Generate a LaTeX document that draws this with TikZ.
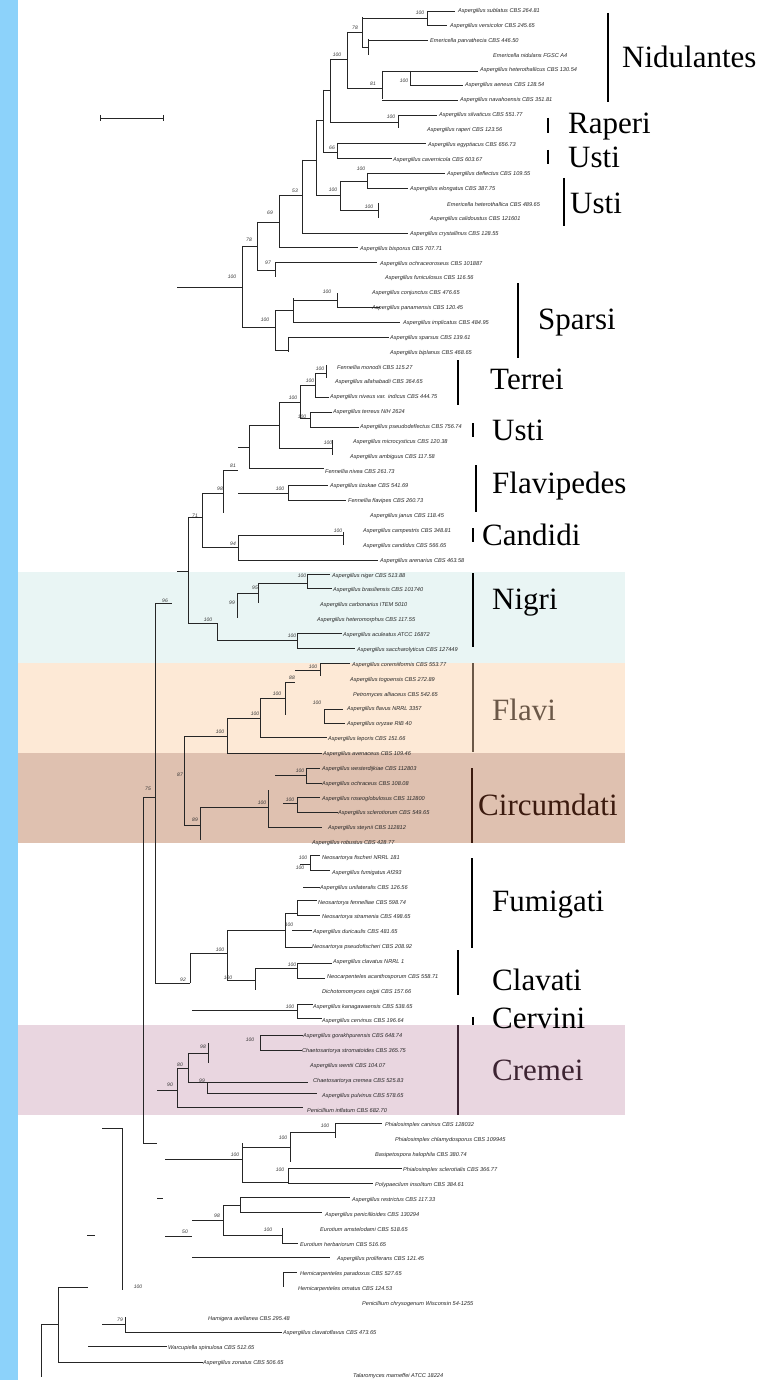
\documentclass[tikz,border=0pt]{standalone}
\usepackage{fontspec}
\setmainfont{Liberation Serif}
\newfontfamily\lfont{Liberation Sans}
\definecolor{strip}{RGB}{140,210,250}
\definecolor{nigribg}{RGB}{233,245,244}
\definecolor{flavibg}{RGB}{253,233,214}
\definecolor{circbg}{RGB}{223,193,176}
\definecolor{cremeibg}{RGB}{233,214,224}
\definecolor{flavitx}{RGB}{107,88,72}
\definecolor{circtx}{RGB}{59,26,14}
\definecolor{cremtx}{RGB}{61,36,50}
\tikzset{
  lf/.style={anchor=west, inner sep=0pt, font=\lfont\itshape\fontsize{5.6}{6}\selectfont, text=black!85},
  bs/.style={inner sep=0pt, font=\lfont\itshape\fontsize{5}{5}\selectfont, text=black!80},
  cl/.style={anchor=west, inner sep=0pt, font=\fontsize{31}{31}\selectfont},
  br/.style={draw=black!85, line width=0.8pt},
  cbar/.style={line width=2pt}
}
\begin{document}
\begin{tikzpicture}[x=1pt,y=-1pt]
\useasboundingbox (0,0) rectangle (771,1380);
\fill[white] (0,0) rectangle (771,1380);
\fill[strip] (0,0) rectangle (18,1380);
\fill[nigribg] (18,572) rectangle (625,663);
\fill[flavibg] (18,663) rectangle (625,753);
\fill[circbg] (18,753) rectangle (625,843);
\fill[cremeibg] (18,1025) rectangle (625,1115);

% scale bar
\draw[br] (100,118) -- (163,118);
\draw[br] (100,115) -- (100,121);
\draw[br] (163,115) -- (163,121);

% ---------- tree branches ----------
\draw[br] (427,11) -- (427,25);
\draw[br] (427,11) -- (455,11);
\draw[br] (427,25) -- (447,25);
\draw[br] (362,17) -- (362,47);
\draw[br] (362,18) -- (427,18);
\draw[br] (368,39) -- (368,55);
\draw[br] (368,40) -- (428,40);
\draw[br] (362,47) -- (368,47);
\draw[br] (347,32) -- (347,88);
\draw[br] (347,32) -- (362,32);
\draw[br] (347,88) -- (382,88);
\draw[br] (330,59) -- (347,59);
\draw[br] (382,71) -- (382,99);
\draw[br] (382,71) -- (478,71);
\draw[br] (382,100) -- (458,100);
\draw[br] (410,71) -- (410,85);
\draw[br] (410,85) -- (463,85);
\draw[br] (330,59) -- (330,122);
\draw[br] (330,122) -- (398,122);
\draw[br] (398,115) -- (398,128);
\draw[br] (398,115) -- (437,115);
\draw[br] (323,90) -- (323,152);
\draw[br] (323,90) -- (330,90);
\draw[br] (323,152) -- (337,152);
\draw[br] (337,143) -- (337,158);
\draw[br] (337,143) -- (426,143);
\draw[br] (337,158) -- (392,158);
\draw[br] (316,120) -- (316,195);
\draw[br] (316,120) -- (323,120);
\draw[br] (316,195) -- (340,195);
\draw[br] (340,181) -- (340,210);
\draw[br] (340,181) -- (367,181);
\draw[br] (340,210) -- (378,210);
\draw[br] (367,173) -- (367,188);
\draw[br] (367,173) -- (445,173);
\draw[br] (367,188) -- (408,188);
\draw[br] (378,203) -- (378,218);
\draw[br] (302,160) -- (302,233);
\draw[br] (302,160) -- (316,160);
\draw[br] (302,233) -- (408,233);
\draw[br] (279,195) -- (279,247);
\draw[br] (279,195) -- (302,195);
\draw[br] (279,247) -- (358,247);
\draw[br] (257,222) -- (257,270);
\draw[br] (257,222) -- (279,222);
\draw[br] (257,270) -- (275,270);
\draw[br] (275,262) -- (275,277);
\draw[br] (275,262) -- (377,262);
\draw[br] (242,246) -- (242,327);
\draw[br] (242,246) -- (257,246);
\draw[br] (177,287) -- (242,287);
\draw[br] (242,327) -- (275,327);
\draw[br] (275,310) -- (275,350);
\draw[br] (275,310) -- (293,310);
\draw[br] (293,298) -- (293,322);
\draw[br] (293,300) -- (337,300);
\draw[br] (337,293) -- (337,307);
\draw[br] (337,307) -- (380,307);
\draw[br] (293,322) -- (400,322);
\draw[br] (275,350) -- (288,350);
\draw[br] (288,337) -- (288,352);
\draw[br] (288,337) -- (389,337);
% Terrei / Usti / Flavipedes / Candidi
\draw[br] (326,365) -- (326,378);
\draw[br] (315,373) -- (315,397);
\draw[br] (315,373) -- (326,373);
\draw[br] (315,397) -- (329,397);
\draw[br] (300,385) -- (315,385);
\draw[br] (300,385) -- (300,418);
\draw[br] (279,402) -- (300,402);
\draw[br] (300,418) -- (310,418);
\draw[br] (310,412) -- (310,427);
\draw[br] (310,412) -- (332,412);
\draw[br] (310,427) -- (359,427);
\draw[br] (279,402) -- (279,448);
\draw[br] (279,448) -- (332,448);
\draw[br] (332,440) -- (332,455);
\draw[br] (249,425) -- (249,468);
\draw[br] (249,425) -- (279,425);
\draw[br] (249,468) -- (324,468);
\draw[br] (238,447) -- (249,447);
\draw[br] (223,470) -- (223,513);
\draw[br] (223,470) -- (238,470);
\draw[br] (202,493) -- (223,493);
\draw[br] (238,493) -- (288,493);
\draw[br] (288,485) -- (288,500);
\draw[br] (288,485) -- (328,485);
\draw[br] (288,500) -- (346,500);
\draw[br] (202,493) -- (202,547);
\draw[br] (202,547) -- (238,547);
\draw[br] (238,535) -- (238,560);
\draw[br] (238,535) -- (343,535);
\draw[br] (343,532) -- (343,545);
\draw[br] (238,560) -- (378,560);
\draw[br] (188,517) -- (202,517);
\draw[br] (188,517) -- (188,623);
\draw[br] (177,571) -- (188,571);
% Nigri
\draw[br] (307,574) -- (307,588);
\draw[br] (307,574) -- (330,574);
\draw[br] (307,588) -- (332,588);
\draw[br] (258,583) -- (307,583);
\draw[br] (258,583) -- (258,603);
\draw[br] (237,593) -- (258,593);
\draw[br] (237,593) -- (237,618);
\draw[br] (188,623) -- (217,623);
\draw[br] (217,623) -- (217,640);
\draw[br] (217,640) -- (297,640);
\draw[br] (297,633) -- (297,648);
\draw[br] (297,633) -- (342,633);
\draw[br] (297,648) -- (355,648);
\draw[br] (155,603) -- (172,603);
\draw[br] (155,603) -- (155,983);
% Flavi
\draw[br] (295,670) -- (320,670);
\draw[br] (320,663) -- (320,676);
\draw[br] (320,663) -- (350,663);
\draw[br] (285,682) -- (295,682);
\draw[br] (285,682) -- (285,715);
\draw[br] (260,698) -- (285,698);
\draw[br] (260,698) -- (260,737);
\draw[br] (260,737) -- (327,737);
\draw[br] (324,709) -- (324,723);
\draw[br] (324,709) -- (343,709);
\draw[br] (324,723) -- (345,723);
\draw[br] (227,718) -- (260,718);
\draw[br] (184,736) -- (227,736);
\draw[br] (227,718) -- (227,753);
\draw[br] (227,753) -- (322,753);
\draw[br] (184,736) -- (184,825);
% Circumdati
\draw[br] (184,825) -- (200,825);
\draw[br] (200,807) -- (200,840);
\draw[br] (200,807) -- (268,807);
\draw[br] (268,790) -- (268,827);
\draw[br] (268,827) -- (322,827);
\draw[br] (283,803) -- (297,803);
\draw[br] (297,797) -- (297,812);
\draw[br] (297,797) -- (320,797);
\draw[br] (297,812) -- (338,812);
\draw[br] (275,775) -- (306,775);
\draw[br] (306,768) -- (306,783);
\draw[br] (306,768) -- (320,768);
\draw[br] (306,783) -- (322,783);
\draw[br] (143,797) -- (155,797);
\draw[br] (143,797) -- (143,1143);
% Fumigati
\draw[br] (310,855) -- (310,870);
\draw[br] (310,855) -- (320,855);
\draw[br] (310,870) -- (330,870);
\draw[br] (300,864) -- (310,864);
\draw[br] (303,887) -- (320,887);
\draw[br] (297,900) -- (297,915);
\draw[br] (297,900) -- (317,900);
\draw[br] (297,915) -- (320,915);
\draw[br] (285,913) -- (285,947);
\draw[br] (285,913) -- (297,913);
\draw[br] (292,930) -- (312,930);
\draw[br] (285,947) -- (312,947);
\draw[br] (227,930) -- (227,980);
\draw[br] (227,930) -- (285,930);
\draw[br] (190,953) -- (227,953);
% Clavati
\draw[br] (297,963) -- (297,978);
\draw[br] (297,963) -- (332,963);
\draw[br] (297,978) -- (325,978);
\draw[br] (255,968) -- (297,968);
\draw[br] (255,968) -- (255,990);
\draw[br] (227,980) -- (255,980);
\draw[br] (155,983) -- (190,983);
\draw[br] (190,953) -- (190,983);
% Cervini
\draw[br] (192,1010) -- (297,1010);
\draw[br] (297,1004) -- (297,1018);
\draw[br] (297,1004) -- (313,1004);
\draw[br] (297,1018) -- (322,1018);
% Cremei
\draw[br] (260,1035) -- (260,1050);
\draw[br] (260,1035) -- (303,1035);
\draw[br] (260,1050) -- (302,1050);
\draw[br] (208,1043) -- (208,1063);
\draw[br] (188,1053) -- (208,1053);
\draw[br] (188,1053) -- (188,1082);
\draw[br] (177,1068) -- (188,1068);
\draw[br] (207,1082) -- (207,1093);
\draw[br] (188,1082) -- (308,1082);
\draw[br] (207,1093) -- (317,1093);
\draw[br] (157,1090) -- (177,1090);
\draw[br] (177,1068) -- (177,1107);
\draw[br] (177,1107) -- (303,1107);
% lower part
\draw[br] (122,1128) -- (122,1290);
\draw[br] (102,1128) -- (122,1128);
\draw[br] (143,1143) -- (157,1143);
\draw[br] (335,1123) -- (335,1138);
\draw[br] (335,1123) -- (382,1123);
\draw[br] (290,1132) -- (335,1132);
\draw[br] (290,1132) -- (290,1162);
\draw[br] (242,1143) -- (242,1182);
\draw[br] (165,1159) -- (242,1159);
\draw[br] (242,1147) -- (290,1147);
\draw[br] (288,1168) -- (288,1183);
\draw[br] (288,1168) -- (402,1168);
\draw[br] (288,1183) -- (373,1183);
\draw[br] (242,1182) -- (288,1182);
\draw[br] (157,1198) -- (163,1198);
\draw[br] (240,1197) -- (240,1212);
\draw[br] (240,1197) -- (350,1197);
\draw[br] (240,1212) -- (322,1212);
\draw[br] (223,1205) -- (240,1205);
\draw[br] (223,1205) -- (223,1235);
\draw[br] (192,1220) -- (223,1220);
\draw[br] (223,1235) -- (282,1235);
\draw[br] (282,1228) -- (282,1243);
\draw[br] (282,1243) -- (298,1243);
\draw[br] (165,1236) -- (192,1236);
\draw[br] (87,1235) -- (95,1235);
\draw[br] (192,1257) -- (330,1257);
\draw[br] (283,1272) -- (283,1287);
\draw[br] (283,1272) -- (297,1272);
\draw[br] (58,1287) -- (88,1287);
\draw[br] (58,1287) -- (58,1362);
\draw[br] (58,1362) -- (203,1362);
\draw[br] (102,1324) -- (125,1324);
\draw[br] (125,1317) -- (125,1332);
\draw[br] (125,1332) -- (282,1332);
\draw[br] (88,1346) -- (167,1346);
\draw[br] (41,1324) -- (41,1377);
\draw[br] (41,1324) -- (58,1324);

% ---------- bootstrap values ----------
\node[bs] (b1) at (420,13) {100};
\node[bs] (b2) at (355,28) {78};
\node[bs] (b3) at (337,55) {100};
\node[bs] (b4) at (373,84) {81};
\node[bs] (b5) at (404,81) {100};
\node[bs] (b6) at (391,117) {100};
\node[bs] (b7) at (332,148) {66};
\node[bs] (b8) at (361,169) {100};
\node[bs] (b9) at (333,190) {100};
\node[bs] (b10) at (369,207) {100};
\node[bs] (b11) at (295,191) {53};
\node[bs] (b12) at (270,213) {69};
\node[bs] (b13) at (249,240) {78};
\node[bs] (b14) at (268,263) {97};
\node[bs] (b15) at (232,277) {100};
\node[bs] (b16) at (327,292) {100};
\node[bs] (b17) at (265,320) {100};
\node[bs] (b18) at (320,369) {100};
\node[bs] (b19) at (310,381) {100};
\node[bs] (b20) at (293,398) {100};
\node[bs] (b21) at (302,417) {100};
\node[bs] (b22) at (328,443) {100};
\node[bs] (b23) at (233,466) {81};
\node[bs] (b24) at (220,489) {98};
\node[bs] (b25) at (280,489) {100};
\node[bs] (b26) at (195,516) {71};
\node[bs] (b27) at (233,544) {94};
\node[bs] (b28) at (338,531) {100};
\node[bs] (b29) at (302,576) {100};
\node[bs] (b30) at (255,588) {95};
\node[bs] (b31) at (232,603) {99};
\node[bs] (b32) at (208,620) {100};
\node[bs] (b33) at (292,636) {100};
\node[bs] (b34) at (165,601) {96};
\node[bs] (b35) at (313,667) {100};
\node[bs] (b36) at (292,678) {88};
\node[bs] (b37) at (277,694) {100};
\node[bs] (b38) at (317,703) {100};
\node[bs] (b39) at (255,714) {100};
\node[bs] (b40) at (220,732) {100};
\node[bs] (b41) at (180,775) {87};
\node[bs] (b42) at (300,771) {100};
\node[bs] (b43) at (290,800) {100};
\node[bs] (b44) at (262,803) {100};
\node[bs] (b45) at (195,820) {89};
\node[bs] (b46) at (148,789) {75};
\node[bs] (b47) at (303,858) {100};
\node[bs] (b48) at (300,868) {100};
\node[bs] (b49) at (289,925) {100};
\node[bs] (b50) at (220,950) {100};
\node[bs] (b51) at (292,965) {100};
\node[bs] (b52) at (228,978) {100};
\node[bs] (b53) at (183,980) {92};
\node[bs] (b54) at (290,1007) {100};
\node[bs] (b55) at (250,1040) {100};
\node[bs] (b56) at (203,1047) {98};
\node[bs] (b57) at (180,1065) {80};
\node[bs] (b58) at (202,1081) {99};
\node[bs] (b59) at (170,1085) {90};
\node[bs] (b60) at (325,1126) {100};
\node[bs] (b61) at (283,1138) {100};
\node[bs] (b62) at (235,1155) {100};
\node[bs] (b63) at (280,1170) {100};
\node[bs] (b64) at (217,1216) {98};
\node[bs] (b65) at (268,1230) {100};
\node[bs] (b66) at (185,1232) {50};
\node[bs] (b67) at (138,1287) {100};
\node[bs] (b68) at (120,1320) {79};

% ---------- leaf labels ----------
\node[lf] (l1) at (458,11.0) {Aspergillus sublatus CBS 264.81};
\node[lf] (l2) at (450,25.9) {Aspergillus versicolor CBS 245.65};
\node[lf] (l3) at (430,40.7) {Emericella parvathecia CBS 446.50};
\node[lf] (l4) at (493,55.6) {Emericella nidulans FGSC A4};
\node[lf] (l5) at (480,70.4) {Aspergillus heterothallicus CBS 130.54};
\node[lf] (l6) at (465,85.3) {Aspergillus aeneus CBS 128.54};
\node[lf] (l7) at (460,100.2) {Aspergillus navahoensis CBS 351.81};
\node[lf] (l8) at (439,115.0) {Aspergillus silvaticus CBS 551.77};
\node[lf] (l9) at (427,129.9) {Aspergillus raperi CBS 123.56};
\node[lf] (l10) at (428,144.7) {Aspergillus egyptiacus CBS 656.73};
\node[lf] (l11) at (393,159.6) {Aspergillus cavernicola CBS 603.67};
\node[lf] (l12) at (447,174.5) {Aspergillus deflectus CBS 109.55};
\node[lf] (l13) at (410,189.3) {Aspergillus elongatus CBS 387.75};
\node[lf] (l14) at (447,204.2) {Emericella heterothallica CBS 489.65};
\node[lf] (l15) at (430,219.0) {Aspergillus calidoustus CBS 121601};
\node[lf] (l16) at (410,233.9) {Aspergillus crystallinus CBS 128.55};
\node[lf] (l17) at (360,248.8) {Aspergillus bisporus CBS 707.71};
\node[lf] (l18) at (380,263.6) {Aspergillus ochraceoroseus CBS 101887};
\node[lf] (l19) at (385,278.5) {Aspergillus funiculosus CBS 116.56};
\node[lf] (l20) at (372,293.3) {Aspergillus conjunctus CBS 476.65};
\node[lf] (l21) at (372,308.2) {Aspergillus panamensis CBS 120.45};
\node[lf] (l22) at (403,323.1) {Aspergillus implicatus CBS 484.95};
\node[lf] (l23) at (390,337.9) {Aspergillus sparsus CBS 139.61};
\node[lf] (l24) at (390,352.8) {Aspergillus biplanus CBS 468.65};
\node[lf] (l25) at (337,367.6) {Fennellia monodii CBS 115.27};
\node[lf] (l26) at (335,382.5) {Aspergillus allahabadii CBS 364.65};
\node[lf] (l27) at (330,397.4) {Aspergillus niveus var. indicus CBS 444.75};
\node[lf] (l28) at (333,412.2) {Aspergillus terreus NIH 2624};
\node[lf] (l29) at (360,427.1) {Aspergillus pseudodeflectus CBS 756.74};
\node[lf] (l30) at (353,441.9) {Aspergillus microcysticus CBS 120.38};
\node[lf] (l31) at (350,456.8) {Aspergillus ambiguus CBS 117.58};
\node[lf] (l32) at (325,471.7) {Fennellia nivea CBS 261.73};
\node[lf] (l33) at (330,486.5) {Aspergillus iizukae CBS 541.69};
\node[lf] (l34) at (348,501.4) {Fennellia flavipes CBS 260.73};
\node[lf] (l35) at (370,516.2) {Aspergillus janus CBS 118.45};
\node[lf] (l36) at (363,531.1) {Aspergillus campestris CBS 348.81};
\node[lf] (l37) at (363,546.0) {Aspergillus candidus CBS 566.65};
\node[lf] (l38) at (380,560.8) {Aspergillus arenarius CBS 463.58};
\node[lf] (l39) at (332,575.7) {Aspergillus niger CBS 513.88};
\node[lf] (l40) at (333,590.5) {Aspergillus brasiliensis CBS 101740};
\node[lf] (l41) at (320,605.4) {Aspergillus carbonarius ITEM 5010};
\node[lf] (l42) at (317,620.3) {Aspergillus heteromorphus CBS 117.55};
\node[lf] (l43) at (343,635.1) {Aspergillus aculeatus ATCC 16872};
\node[lf] (l44) at (357,650.0) {Aspergillus saccharolyticus CBS 127449};
\node[lf] (l45) at (352,664.8) {Aspergillus coremiiformis CBS 553.77};
\node[lf] (l46) at (350,679.7) {Aspergillus togoensis CBS 272.89};
\node[lf] (l47) at (353,694.6) {Petromyces alliaceus CBS 542.65};
\node[lf] (l48) at (347,709.4) {Aspergillus flavus NRRL 3357};
\node[lf] (l49) at (347,724.3) {Aspergillus oryzae RIB 40};
\node[lf] (l50) at (328,739.1) {Aspergillus leporis CBS 151.66};
\node[lf] (l51) at (323,754.0) {Aspergillus avenaceus CBS 109.46};
\node[lf] (l52) at (322,768.9) {Aspergillus westerdijkiae CBS 112803};
\node[lf] (l53) at (322,783.7) {Aspergillus ochraceus CBS 108.08};
\node[lf] (l54) at (322,798.6) {Aspergillus roseoglobulosus CBS 112800};
\node[lf] (l55) at (338,813.4) {Aspergillus sclerotiorum CBS 549.65};
\node[lf] (l56) at (328,828.3) {Aspergillus steynii CBS 112812};
\node[lf] (l57) at (312,843.2) {Aspergillus robustus CBS 428.77};
\node[lf] (l58) at (322,858.0) {Neosartorya fischeri NRRL 181};
\node[lf] (l59) at (332,872.9) {Aspergillus fumigatus Af293};
\node[lf] (l60) at (320,887.7) {Aspergillus unilateralis CBS 126.56};
\node[lf] (l61) at (318,902.6) {Neosartorya fennelliae CBS 598.74};
\node[lf] (l62) at (322,917.5) {Neosartorya stramenia CBS 498.65};
\node[lf] (l63) at (313,932.3) {Aspergillus duricaulis CBS 481.65};
\node[lf] (l64) at (312,947.2) {Neosartorya pseudofischeri CBS 208.92};
\node[lf] (l65) at (333,962.0) {Aspergillus clavatus NRRL 1};
\node[lf] (l66) at (327,976.9) {Neocarpenteles acanthosporum CBS 558.71};
\node[lf] (l67) at (322,991.8) {Dichotomomyces cejpii CBS 157.66};
\node[lf] (l68) at (313,1006.6) {Aspergillus kanagawaensis CBS 538.65};
\node[lf] (l69) at (322,1021.5) {Aspergillus cervinus CBS 196.64};
\node[lf] (l70) at (303,1036.3) {Aspergillus gorakhpurensis CBS 648.74};
\node[lf] (l71) at (302,1051.2) {Chaetosartorya stromatoides CBS 365.75};
\node[lf] (l72) at (310,1066.1) {Aspergillus wentii CBS 104.07};
\node[lf] (l73) at (313,1080.9) {Chaetosartorya cremea CBS 525.83};
\node[lf] (l74) at (322,1095.8) {Aspergillus pulvinus CBS 578.65};
\node[lf] (l75) at (307,1110.6) {Penicillium inflatum CBS 682.70};
\node[lf] (l76) at (385,1125.5) {Phialosimplex caninus CBS 128032};
\node[lf] (l77) at (395,1140.4) {Phialosimplex chlamydosporus CBS 109945};
\node[lf] (l78) at (375,1155.2) {Basipetospora halophila CBS 380.74};
\node[lf] (l79) at (403,1170.1) {Phialosimplex sclerotialis CBS 366.77};
\node[lf] (l80) at (375,1184.9) {Polypaecilum insolitum CBS 384.61};
\node[lf] (l81) at (352,1199.8) {Aspergillus restrictus CBS 117.33};
\node[lf] (l82) at (325,1214.7) {Aspergillus penicillioides CBS 130294};
\node[lf] (l83) at (320,1229.5) {Eurotium amstelodami CBS 518.65};
\node[lf] (l84) at (300,1244.4) {Eurotium herbariorum CBS 516.65};
\node[lf] (l85) at (337,1259.2) {Aspergillus proliferans CBS 121.45};
\node[lf] (l86) at (300,1274.1) {Hemicarpenteles paradoxus CBS 527.65};
\node[lf] (l87) at (298,1289.0) {Hemicarpenteles ornatus CBS 124.53};
\node[lf] (l88) at (362,1303.8) {Penicillium chrysogenum Wisconsin 54-1255};
\node[lf] (l89) at (208,1318.7) {Hamigera avellanea CBS 295.48};
\node[lf] (l90) at (283,1333.5) {Aspergillus clavatoflavus CBS 473.65};
\node[lf] (l91) at (168,1348.4) {Warcupiella spinulosa CBS 512.65};
\node[lf] (l92) at (203,1363.3) {Aspergillus zonatus CBS 506.65};
\node[lf] (l93) at (353,1376.5) {Talaromyces marneffei ATCC 18224};

% ---------- clade bars and names ----------
\draw[cbar] (608,13) -- (608,102);
\node[cl] (c1) at (622,57) {Nidulantes};
\draw[cbar] (548,118) -- (548,133);
\node[cl] (c2) at (568,127) {Raperi};
\draw[cbar] (548,150) -- (548,164);
\node[cl] (c3) at (568,157) {Usti};
\draw[cbar] (564,178) -- (564,226);
\node[cl] (c4) at (570,203) {Usti};
\draw[cbar] (518,283) -- (518,358);
\node[cl] (c5) at (538,323) {Sparsi};
\draw[cbar] (458,360) -- (458,405);
\node[cl] (c6) at (490,379) {Terrei};
\draw[cbar] (473,423) -- (473,437);
\node[cl] (c7) at (492,430) {Usti};
\draw[cbar] (476,465) -- (476,512);
\node[cl] (c8) at (492,486) {Flavipedes};
\draw[cbar] (473,528) -- (473,542);
\node[cl] (c9) at (482,535) {Candidi};
\draw[cbar] (473,573) -- (473,647);
\node[cl] (c10) at (492,603) {Nigri};
\draw[cbar, flavitx] (473,663) -- (473,752);
\node[cl, text=flavitx] (c11) at (492,710) {Flavi};
\draw[cbar, circtx] (472,768) -- (472,843);
\node[cl, text=circtx] (c12) at (478,805) {Circumdati};
\draw[cbar] (472,858) -- (472,948);
\node[cl] (c13) at (492,905) {Fumigati};
\draw[cbar] (458,950) -- (458,995);
\node[cl] (c14) at (492,980) {Clavati};
\draw[cbar] (473,1017) -- (473,1025);
\node[cl] (c15) at (492,1018) {Cervini};
\draw[cbar, cremtx] (458,1025) -- (458,1115);
\node[cl, text=cremtx] (c16) at (492,1070) {Cremei};
\end{tikzpicture}
\end{document}
